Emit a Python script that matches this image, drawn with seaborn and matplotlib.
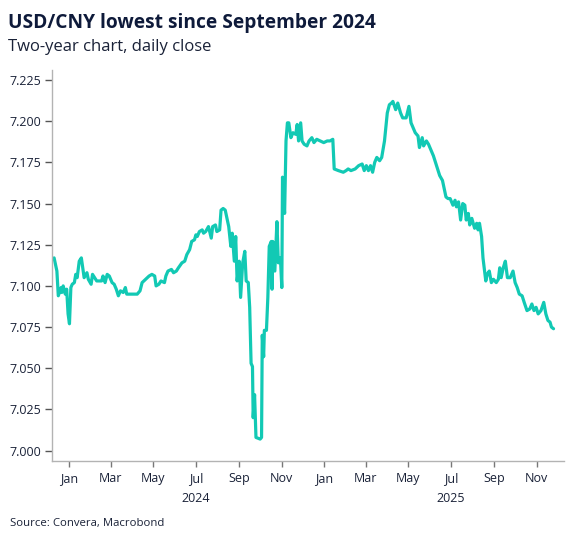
import matplotlib
matplotlib.use("Agg")
import matplotlib.pyplot as plt
import matplotlib.dates as mdates
import matplotlib.transforms as mtransforms
import pandas as pd
import seaborn as sns

# USD/CNY close
dates = [
    "2023-12-11", "2023-12-15", "2023-12-17", "2023-12-21", "2023-12-22", "2023-12-24",
    "2023-12-27", "2023-12-29", "2023-12-31", "2024-01-02", "2024-01-04", "2024-01-06",
    "2024-01-09", "2024-01-11", "2024-01-13", "2024-01-16", "2024-01-19", "2024-01-21",
    "2024-01-23", "2024-01-27", "2024-01-29", "2024-02-02", "2024-02-04", "2024-02-07",
    "2024-02-10", "2024-02-17", "2024-02-19", "2024-02-22", "2024-02-25", "2024-02-28",
    "2024-03-03", "2024-03-06", "2024-03-09", "2024-03-12", "2024-03-15", "2024-03-19",
    "2024-03-22", "2024-03-24", "2024-03-29", "2024-04-08", "2024-04-12", "2024-04-15",
    "2024-04-20", "2024-04-25", "2024-04-29", "2024-05-03", "2024-05-05", "2024-05-09",
    "2024-05-12", "2024-05-17", "2024-05-19", "2024-05-22", "2024-05-27", "2024-05-30",
    "2024-06-03", "2024-06-06", "2024-06-11", "2024-06-15", "2024-06-18", "2024-06-22",
    "2024-06-25", "2024-06-29", "2024-07-01", "2024-07-03", "2024-07-06", "2024-07-10",
    "2024-07-12", "2024-07-15", "2024-07-19", "2024-07-23", "2024-07-25", "2024-07-29",
    "2024-07-31", "2024-08-04", "2024-08-06", "2024-08-09", "2024-08-12", "2024-08-15",
    "2024-08-17", "2024-08-20", "2024-08-22", "2024-08-25", "2024-08-27", "2024-08-29",
    "2024-09-01", "2024-09-03", "2024-09-06", "2024-09-09", "2024-09-11", "2024-09-14",
    "2024-09-16", "2024-09-18", "2024-09-20", "2024-09-21", "2024-09-23", "2024-09-25",
    "2024-10-01", "2024-10-03", "2024-10-04", "2024-10-06", "2024-10-07", "2024-10-10",
    "2024-10-12", "2024-10-14", "2024-10-17", "2024-10-18", "2024-10-19", "2024-10-22",
    "2024-10-24", "2024-10-25", "2024-10-27", "2024-10-30", "2024-11-01", "2024-11-02",
    "2024-11-05", "2024-11-07", "2024-11-09", "2024-11-11", "2024-11-14", "2024-11-17",
    "2024-11-21", "2024-11-23", "2024-11-25", "2024-11-28", "2024-11-30", "2024-12-03",
    "2024-12-07", "2024-12-10", "2024-12-14", "2024-12-17", "2024-12-21", "2024-12-26",
    "2024-12-31", "2025-01-05", "2025-01-09", "2025-01-13", "2025-01-15", "2025-01-21",
    "2025-01-28", "2025-02-01", "2025-02-04", "2025-02-08", "2025-02-14", "2025-02-19",
    "2025-02-24", "2025-02-27", "2025-03-02", "2025-03-05", "2025-03-08", "2025-03-11",
    "2025-03-14", "2025-03-17", "2025-03-21", "2025-03-24", "2025-03-28", "2025-04-01",
    "2025-04-04", "2025-04-07", "2025-04-09", "2025-04-13", "2025-04-16", "2025-04-20",
    "2025-04-23", "2025-04-28", "2025-05-02", "2025-05-05", "2025-05-09", "2025-05-11",
    "2025-05-15", "2025-05-17", "2025-05-21", "2025-05-23", "2025-05-27", "2025-05-30",
    "2025-06-02", "2025-06-06", "2025-06-09", "2025-06-12", "2025-06-15", "2025-06-19",
    "2025-06-21", "2025-06-24", "2025-06-27", "2025-06-30", "2025-07-02", "2025-07-04",
    "2025-07-07", "2025-07-09", "2025-07-12", "2025-07-15", "2025-07-18", "2025-07-21",
    "2025-07-23", "2025-07-26", "2025-07-28", "2025-07-31", "2025-08-04", "2025-08-07",
    "2025-08-09", "2025-08-11", "2025-08-14", "2025-08-16", "2025-08-20", "2025-08-22",
    "2025-08-25", "2025-08-28", "2025-08-31", "2025-09-04", "2025-09-07", "2025-09-09",
    "2025-09-11", "2025-09-14", "2025-09-17", "2025-09-20", "2025-09-24", "2025-09-28",
    "2025-10-01", "2025-10-04", "2025-10-07", "2025-10-11", "2025-10-14", "2025-10-18",
    "2025-10-22", "2025-10-25", "2025-10-28", "2025-10-31", "2025-11-03", "2025-11-07",
    "2025-11-11", "2025-11-14", "2025-11-17", "2025-11-20", "2025-11-22", "2025-11-25",
]
usdcny = [
    7.117, 7.109, 7.094, 7.099, 7.096, 7.100,
    7.095, 7.098, 7.083, 7.077, 7.099, 7.101,
    7.102, 7.107, 7.105, 7.115, 7.117, 7.111,
    7.105, 7.108, 7.104, 7.101, 7.107, 7.105,
    7.103, 7.103, 7.106, 7.102, 7.107, 7.106,
    7.102, 7.101, 7.098, 7.094, 7.097, 7.096,
    7.099, 7.095, 7.095, 7.095, 7.097, 7.102,
    7.104, 7.106, 7.107, 7.106, 7.100, 7.101,
    7.103, 7.102, 7.106, 7.109, 7.110, 7.108,
    7.109, 7.111, 7.114, 7.115, 7.119, 7.122,
    7.127, 7.128, 7.131, 7.130, 7.133, 7.134,
    7.132, 7.133, 7.136, 7.129, 7.136, 7.137,
    7.133, 7.134, 7.146, 7.147, 7.146, 7.140,
    7.136, 7.124, 7.132, 7.115, 7.130, 7.103,
    7.115, 7.093, 7.114, 7.121, 7.103, 7.102,
    7.087, 7.053, 7.051, 7.020, 7.034, 7.008,
    7.007, 7.008, 7.070, 7.057, 7.073, 7.073,
    7.093, 7.124, 7.127, 7.098, 7.127, 7.109,
    7.130, 7.139, 7.114, 7.117, 7.099, 7.166,
    7.144, 7.188, 7.199, 7.199, 7.190, 7.193,
    7.192, 7.198, 7.188, 7.199, 7.188, 7.186,
    7.185, 7.188, 7.190, 7.187, 7.189, 7.188,
    7.187, 7.188, 7.188, 7.189, 7.171, 7.170,
    7.169, 7.170, 7.171, 7.170, 7.171, 7.173,
    7.174, 7.170, 7.173, 7.170, 7.173, 7.169,
    7.175, 7.178, 7.176, 7.178, 7.188, 7.205,
    7.210, 7.211, 7.212, 7.207, 7.211, 7.205,
    7.202, 7.202, 7.209, 7.199, 7.195, 7.193,
    7.191, 7.184, 7.190, 7.185, 7.188, 7.186,
    7.183, 7.179, 7.175, 7.171, 7.167, 7.164,
    7.160, 7.154, 7.153, 7.153, 7.151, 7.149,
    7.152, 7.148, 7.151, 7.140, 7.150, 7.149,
    7.140, 7.144, 7.137, 7.141, 7.135, 7.138,
    7.134, 7.138, 7.130, 7.117, 7.103, 7.107,
    7.109, 7.102, 7.104, 7.102, 7.104, 7.111,
    7.105, 7.111, 7.115, 7.105, 7.105, 7.109,
    7.102, 7.099, 7.095, 7.094, 7.090, 7.085,
    7.086, 7.089, 7.085, 7.087, 7.083, 7.085,
    7.090, 7.083, 7.079, 7.078, 7.075, 7.074,
]
y_ticks = [7.000, 7.025, 7.050, 7.075, 7.100, 7.125, 7.150, 7.175, 7.200, 7.225]
year_labels = ["2024", "2025"]

df = pd.DataFrame({"date": pd.to_datetime(dates), "close": usdcny})

sns.set_style("white")
plt.rcParams["font.family"] = ["Open Sans", "DejaVu Sans"]

text_color = "#1a2238"
axis_color = "#b3b3b3"
line_color = "#12c9b4"

fig = plt.figure(figsize=(5.74, 5.44), dpi=100)
ax = fig.add_axes([0.0906, 0.1526, 0.892, 0.7188])

sns.lineplot(data=df, x="date", y="close", color=line_color, linewidth=2.3, ax=ax)

ax.set_xlim(pd.Timestamp("2023-12-08"), pd.Timestamp("2025-12-10"))
ax.set_ylim(6.9937, 7.2311)
ax.set_yticks(y_ticks)
ax.yaxis.set_major_formatter(matplotlib.ticker.FormatStrFormatter("%.3f"))

ax.xaxis.set_major_locator(mdates.MonthLocator(bymonth=[1, 3, 5, 7, 9, 11]))
ax.xaxis.set_major_formatter(mdates.DateFormatter("%b"))
ax.set_xlabel("")
ax.set_ylabel("")

for side in ["top", "right"]:
    ax.spines[side].set_visible(False)
for side in ["left", "bottom"]:
    ax.spines[side].set_color(axis_color)
    ax.spines[side].set_linewidth(1.0)

ax.tick_params(axis="y", length=5, width=1, color="#555555", labelsize=9,
               labelcolor=text_color, pad=3, left=True)
ax.tick_params(axis="x", length=4, width=1, color="#777777", labelsize=9,
               labelcolor=text_color, pad=4, bottom=True)

# year labels under July
trans = mtransforms.blended_transform_factory(ax.transData, ax.transAxes)
for yr in year_labels:
    ax.text(mdates.date2num(pd.Timestamp(f"{yr}-07-01")), -0.096, yr, transform=trans,
            ha="center", va="center", fontsize=9, color=text_color)

fig.text(0.014, 0.958, "USD/CNY lowest since September 2024", fontsize=13.8,
         fontweight="bold", color="#0e1a3a", ha="left", va="center")
fig.text(0.014, 0.913, "Two-year chart, daily close", fontsize=12,
         color=text_color, ha="left", va="center")
fig.text(0.017, 0.038, "Source: Convera, Macrobond", fontsize=8.2,
         color=text_color, ha="left", va="center")

fig.savefig("out.png", dpi=100)
